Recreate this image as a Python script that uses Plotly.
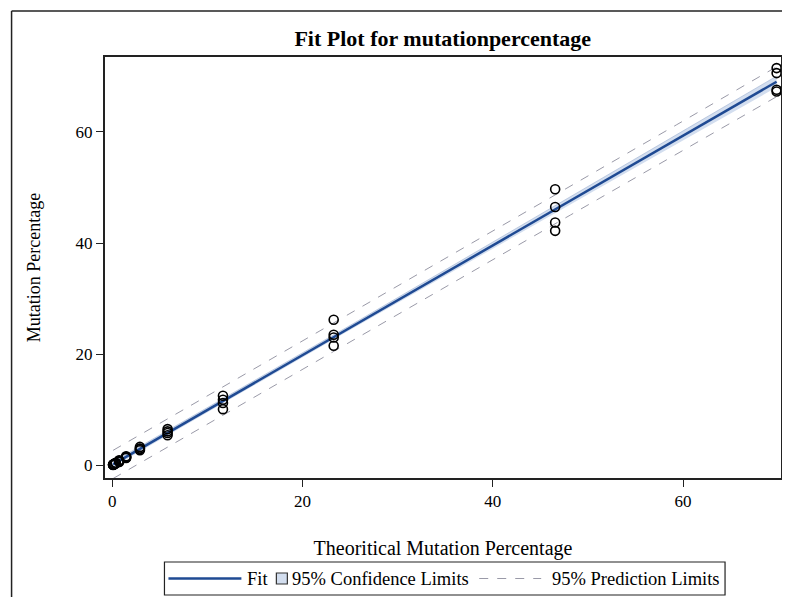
import numpy as np
import plotly.graph_objects as go

# ---- data ----
theoretical = [0.09, 0.09, 0.09, 0.09,
               0.18, 0.18, 0.18, 0.18,
               0.36, 0.36, 0.36, 0.36,
               0.73, 0.73, 0.73, 0.73,
               1.46, 1.46, 1.46, 1.46,
               2.91, 2.91, 2.91, 2.91,
               5.82, 5.82, 5.82, 5.82,
               11.64, 11.64, 11.64, 11.64,
               23.28, 23.28, 23.28, 23.28,
               46.56, 46.56, 46.56, 46.56,
               69.84, 69.84, 69.84, 69.84]
mutation = [0.05, 0.10, 0.12, 0.08,
            0.15, 0.20, 0.22, 0.18,
            0.30, 0.40, 0.35, 0.45,
            0.60, 0.80, 0.70, 0.90,
            1.30, 1.60, 1.50, 1.40,
            2.70, 3.30, 3.00, 2.90,
            5.40, 5.80, 6.50, 6.10,
            10.1, 11.2, 11.8, 12.5,
            21.5, 23.0, 23.5, 26.2,
            42.2, 43.7, 46.5, 49.7,
            67.3, 67.6, 70.6, 71.5]
x_ticks = [0, 20, 40, 60]
y_ticks = [0, 20, 40, 60]
legend_labels = ["Fit", "95% Confidence Limits", "95% Prediction Limits"]

FIT_COLOR = "#1f4a93"
BAND_COLOR = "#d3deef"
PRED_COLOR = "#9a9aa8"

# ---- ordinary least squares fit with confidence and prediction limits ----
x = np.array(theoretical)
y = np.array(mutation)
n = len(x)
b1, b0 = np.polyfit(x, y, 1)
resid = y - (b0 + b1 * x)
s = np.sqrt(np.sum(resid ** 2) / (n - 2))
xm = x.mean()
sxx = np.sum((x - xm) ** 2)
t = 2.018  # t(0.975, df=42)
xg = np.linspace(x.min(), x.max(), 120)
yg = b0 + b1 * xg
se_mean = s * np.sqrt(1 / n + (xg - xm) ** 2 / sxx)
se_pred = s * np.sqrt(1 + 1 / n + (xg - xm) ** 2 / sxx)

fig = go.Figure()
fig.add_trace(go.Scatter(x=xg, y=yg - t * se_mean, mode="lines",
                         line=dict(width=0, color=BAND_COLOR), hoverinfo="skip"))
fig.add_trace(go.Scatter(x=xg, y=yg + t * se_mean, mode="lines", fill="tonexty",
                         fillcolor=BAND_COLOR, line=dict(width=0.6, color="#9fb1d2"),
                         hoverinfo="skip"))
fig.add_trace(go.Scatter(x=xg, y=yg - t * se_pred, mode="lines",
                         line=dict(width=1, color=PRED_COLOR, dash="dash")))
fig.add_trace(go.Scatter(x=xg, y=yg + t * se_pred, mode="lines",
                         line=dict(width=1, color=PRED_COLOR, dash="dash")))
fig.add_trace(go.Scatter(x=xg, y=yg, mode="lines",
                         line=dict(width=2.5, color=FIT_COLOR)))
fig.add_trace(go.Scatter(x=theoretical, y=mutation, mode="markers",
                         marker=dict(symbol="circle-open", size=9,
                                     color="black", line=dict(width=1.6))))

# the page body adds an 8px offset; work in screen pixels and convert
OFF = 8
W, H = 790 - OFF, 597 - OFF
L, T = 104.5 - OFF, 57 - OFF
R = W - (781 - OFF)
B = H - (478 - OFF)
pw = W - L - R
ph = H - T - B


def px_y(p):  # screen pixel -> paper y
    return (T + ph - (p - OFF)) / ph


def px_x(p):  # screen pixel -> paper x
    return ((p - OFF) - L) / pw


fig.update_layout(
    width=W, height=H,
    margin=dict(l=L, r=R, t=T, b=B, autoexpand=False),
    paper_bgcolor="white", plot_bgcolor="white",
    showlegend=False,
    font=dict(family="Liberation Serif, Times New Roman, serif", size=16, color="black"),
    title=dict(text="<b>Fit Plot for mutationpercentage</b>",
               x=((L + pw / 2)) / W, xanchor="center", y=1 - (38 - OFF) / H, yanchor="middle",
               font=dict(size=22, family="Liberation Serif, serif")),
    xaxis=dict(range=[-0.76, 70.3], tickvals=x_ticks, ticktext=[str(v) for v in x_ticks],
               showgrid=False, zeroline=False, showline=True, linecolor="#222",
               linewidth=2, mirror=True, ticks="outside", ticklen=7, tickcolor="#222",
               tickfont=dict(size=17), automargin=False,
               title=dict(text="Theoritical Mutation Percentage", standoff=31,
                          font=dict(size=20))),
    yaxis=dict(range=[-2.3, 73.5], tickvals=y_ticks, ticktext=[str(v) for v in y_ticks],
               showgrid=False, zeroline=False, showline=True, linecolor="#222",
               linewidth=2, mirror=True, ticks="outside", ticklen=7, tickcolor="#222",
               tickfont=dict(size=17), automargin=False,
               title=dict(text="Mutation Percentage", standoff=30,
                          font=dict(size=18))),
)

# outer frame around the whole graph (drawn as separate edges)
FRAME = dict(color="#222", width=1.5)
fig.add_shape(type="line", xref="paper", yref="paper",
              x0=px_x(11), x1=px_x(786), y0=px_y(11), y1=px_y(11), line=FRAME)
fig.add_shape(type="line", xref="paper", yref="paper",
              x0=px_x(11), x1=px_x(11), y0=px_y(11), y1=px_y(600), line=FRAME)
fig.add_shape(type="line", xref="paper", yref="paper",
              x0=px_x(786), x1=px_x(786), y0=px_y(11), y1=px_y(600), line=FRAME)

# ---- legend drawn below the plot ----
LY = 578.5
LF = dict(size=18.5, family="Liberation Serif, serif", color="black")
fig.add_shape(type="rect", xref="paper", yref="paper",
              x0=px_x(164), x1=px_x(725), y0=px_y(595), y1=px_y(562),
              line=dict(color="#222", width=1.2), fillcolor="white")
fig.add_shape(type="line", xref="paper", yref="paper",
              x0=px_x(168), x1=px_x(241), y0=px_y(LY), y1=px_y(LY),
              line=dict(color=FIT_COLOR, width=2.5))
fig.add_annotation(xref="paper", yref="paper", x=px_x(245), y=px_y(LY),
                   xanchor="left", yanchor="middle", showarrow=False,
                   text=legend_labels[0], font=LF)
fig.add_shape(type="rect", xref="paper", yref="paper",
              x0=px_x(276), x1=px_x(287), y0=px_y(LY + 5.5), y1=px_y(LY - 5.5),
              line=dict(color="#333", width=1.2), fillcolor=BAND_COLOR)
fig.add_annotation(xref="paper", yref="paper", x=px_x(290), y=px_y(LY),
                   xanchor="left", yanchor="middle", showarrow=False,
                   text=legend_labels[1], font=LF)
fig.add_shape(type="line", xref="paper", yref="paper",
              x0=px_x(479), x1=px_x(541), y0=px_y(LY), y1=px_y(LY),
              line=dict(color=PRED_COLOR, width=1, dash="dash"))
fig.add_annotation(xref="paper", yref="paper", x=px_x(550), y=px_y(LY),
                   xanchor="left", yanchor="middle", showarrow=False,
                   text=legend_labels[2], font=LF)

fig.write_html("out.html")
